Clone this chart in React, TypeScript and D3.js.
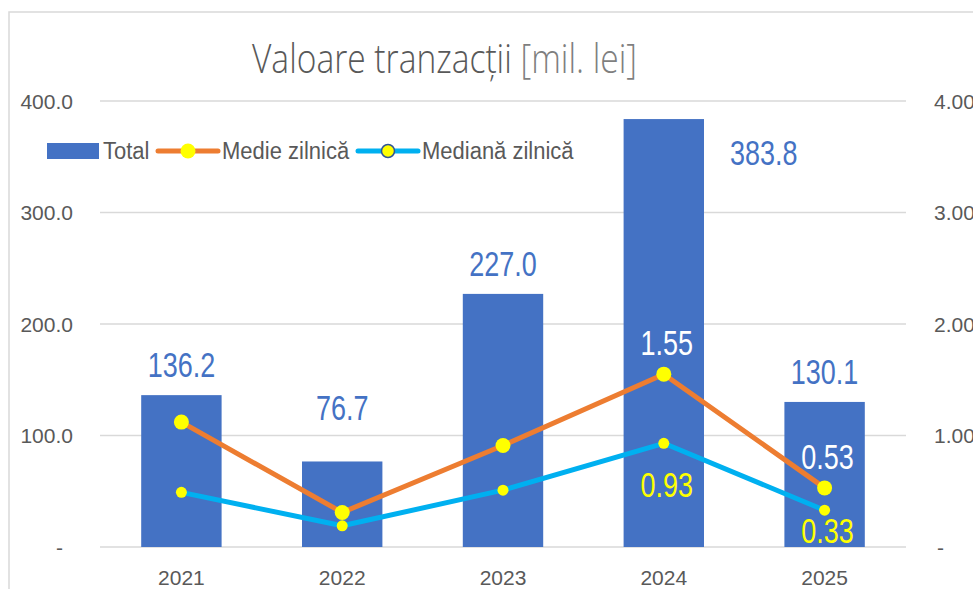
import * as d3 from "d3";

const years = ["2021", "2022", "2023", "2024", "2025"];
const totalValues = [136.2, 76.7, 227.0, 383.8, 130.1];
const medieValues = [1.12, 0.31, 0.91, 1.55, 0.53];
const medianaValues = [0.49, 0.19, 0.51, 0.93, 0.33];
const leftTicks = [0, 100, 200, 300, 400];
const rightTicks = [0, 1, 2, 3, 4];
// only these points carry a label in the original
const medieLabelYears = ["2024", "2025"];
const medianaLabelYears = ["2024", "2025"];

const width = 973;
const height = 589;
const plotLeft = 101;
const plotRight = 905;
const plotTop = 101;
const plotBottom = 547;

const FONT = "'Liberation Sans', Arial, sans-serif";
const GREY = "#595959";
const BLUE = "#4472C4";
const ORANGE = "#ED7D31";
const CYAN = "#00B0F0";
const YELLOW = "#FFFF00";
const GRID = "#d9d9d9";

// text helper: the reference glyphs look a bit taller than wide
const Txt = ({ x, y, size, sy = 1, anchor = "start", fill = GREY, weight = 400, children }) => (
  <text
    transform={`translate(${x},${y}) scale(1,${sy})`}
    fontFamily={FONT}
    fontSize={size}
    fontWeight={weight}
    fill={fill}
    textAnchor={anchor}
  >
    {children}
  </text>
);

const App = () => {
  const xScale = d3
    .scaleBand()
    .domain(years)
    .range([plotLeft, plotRight])
    .paddingInner(0.5)
    .paddingOuter(0.25);
  const yLeft = d3.scaleLinear().domain([0, 400]).range([plotBottom, plotTop]);
  const yRight = d3.scaleLinear().domain([0, 4]).range([plotBottom, plotTop]);
  const cx = (year) => xScale(year) + xScale.bandwidth() / 2;

  const lineFunc = d3
    .line()
    .x((d) => cx(d.year))
    .y((d) => yRight(d.value));

  const medie = years.map((year, i) => ({ year, value: medieValues[i] }));
  const mediana = years.map((year, i) => ({ year, value: medianaValues[i] }));

  // manual nudges of a few bar labels, as in the original
  const barLabelPos = (year, v) => {
    if (year === "2022") return [cx(year), yLeft(v) - 41];
    if (year === "2024") return [cx(year) + 100, yLeft(v) + 46];
    return [cx(year), yLeft(v) - 18];
  };
  const medianaLabelDy = (year) => (year === "2024" ? 54 : 33);

  return (
    <svg
      width={width}
      height={height}
      style={{ position: "absolute", left: 0, top: 0, background: "#fff" }}
    >
      <rect x={9} y={12} width={1000} height={700} fill="#fff" stroke={GRID} strokeWidth={1.5} />

      {/* title */}
      <text
        transform={`translate(252,73) scale(1,1.3)`}
        fontFamily="'Open Sans', sans-serif"
        fontSize={31}
        fontWeight={300}
        fill={GREY}
        textLength={385}
        lengthAdjust="spacingAndGlyphs"
      >
        <tspan>Valoare tranzacții </tspan>
        <tspan fill="#7f7f7f" fontWeight={200}>[mil. lei]</tspan>
      </text>

      {/* gridlines */}
      {leftTicks.map((t) => (
        <line
          key={t}
          x1={plotLeft - 1}
          x2={plotRight + 1}
          y1={yLeft(t)}
          y2={yLeft(t)}
          stroke={GRID}
          strokeWidth={1.5}
        />
      ))}

      {/* left axis */}
      {leftTicks.map((t) =>
        t === 0 ? (
          <Txt key={t} x={63} y={yLeft(t) + 7.5} size={21} anchor="end">-</Txt>
        ) : (
          <Txt key={t} x={73} y={yLeft(t) + 7.5} size={21} anchor="end">{d3.format(".1f")(t)}</Txt>
        )
      )}

      {/* right axis (cut by the frame edge, as in the original) */}
      {rightTicks.map((t) => (
        <Txt key={t} x={t === 0 ? 937 : 934} y={yRight(t) + 7.5} size={21}>
          {t === 0 ? "-" : d3.format(".2f")(t)}
        </Txt>
      ))}

      {/* bottom axis */}
      {years.map((y) => (
        <Txt key={y} x={cx(y)} y={585} size={21} anchor="middle">{y}</Txt>
      ))}

      {/* bars */}
      {years.map((y, i) => (
        <rect
          key={y}
          x={xScale(y)}
          y={yLeft(totalValues[i])}
          width={xScale.bandwidth()}
          height={yLeft(0) - yLeft(totalValues[i])}
          fill={BLUE}
        />
      ))}
      {years.map((y, i) => {
        const [lx, ly] = barLabelPos(y, totalValues[i]);
        return (
          <Txt key={y} x={lx} y={ly} size={27} sy={1.32} anchor="middle" fill={BLUE}>
            {d3.format(".1f")(totalValues[i])}
          </Txt>
        );
      })}

      {/* lines */}
      <path d={lineFunc(medie)} fill="none" stroke={ORANGE} strokeWidth={5} strokeLinejoin="round" />
      {medie.map((d) => (
        <circle key={d.year} cx={cx(d.year)} cy={yRight(d.value)} r={7.5} fill={YELLOW} />
      ))}
      <path d={lineFunc(mediana)} fill="none" stroke={CYAN} strokeWidth={5} strokeLinejoin="round" />
      {mediana.map((d) => (
        <circle key={d.year} cx={cx(d.year)} cy={yRight(d.value)} r={5.5} fill={YELLOW} />
      ))}

      {/* line labels */}
      {medie
        .filter((d) => medieLabelYears.includes(d.year))
        .map((d) => (
          <Txt key={d.year} x={cx(d.year) + 3} y={yRight(d.value) - 19} size={27} sy={1.3} anchor="middle" fill="#fff">
            {d3.format(".2f")(d.value)}
          </Txt>
        ))}
      {mediana
        .filter((d) => medianaLabelYears.includes(d.year))
        .map((d) => (
          <Txt
            key={d.year}
            x={cx(d.year) + 3}
            y={yRight(d.value) + medianaLabelDy(d.year)}
            size={27}
            sy={1.3}
            anchor="middle"
            fill={YELLOW}
          >
            {d3.format(".2f")(d.value)}
          </Txt>
        ))}

      {/* legend */}
      <rect x={47} y={143} width={52} height={16} fill={BLUE} />
      <Txt x={103} y={159} size={22} sy={1.05}>Total</Txt>
      <line x1={158} x2={218} y1={151} y2={151} stroke={ORANGE} strokeWidth={5} strokeLinecap="round" />
      <circle cx={188} cy={151} r={7.5} fill={YELLOW} />
      <Txt x={222} y={159} size={22} sy={1.05}>Medie zilnică</Txt>
      <line x1={358} x2={418} y1={151} y2={151} stroke={CYAN} strokeWidth={5} strokeLinecap="round" />
      <circle cx={388} cy={151} r={6.5} fill={YELLOW} stroke="#2F5597" strokeWidth={1.5} />
      <Txt x={422} y={159} size={22} sy={1.05}>Mediană zilnică</Txt>
    </svg>
  );
};

export default App;
